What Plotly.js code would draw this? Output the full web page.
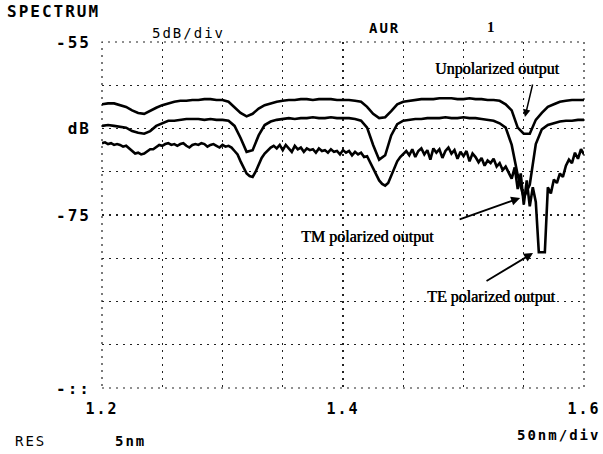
<!DOCTYPE html>
<html>
<head>
<meta charset="utf-8">
<script src="https://cdn.plot.ly/plotly-3.0.1.min.js"></script>
<style>
  html, body { margin: 0; padding: 0; background: #fff; }
  #chart { width: 603px; height: 454px; }
  .xtick text, .ytick text { letter-spacing: 2px; }
  text.annotation-text[style*="Mono"] { letter-spacing: 2px; }
</style>
</head>
<body>
<div id="chart"></div>
<script>
// Wavelength grid (um) for the unpolarized and TM traces
var wlCoarse = [1.200,1.205,1.210,1.215,1.220,1.225,1.230,1.235,1.240,1.245,
  1.250,1.255,1.260,1.265,1.270,1.275,1.280,1.285,1.290,1.295,
  1.300,1.305,1.310,1.315,1.320,1.325,1.330,1.335,1.340,1.345,
  1.350,1.355,1.360,1.365,1.370,1.375,1.380,1.385,1.390,1.395,
  1.400,1.405,1.410,1.415,1.420,1.425,1.430,1.435,1.440,1.445,
  1.450,1.455,1.460,1.465,1.470,1.475,1.480,1.485,1.490,1.495,
  1.500,1.505,1.510,1.515,1.520,1.525,1.530,1.535,1.540,1.545,
  1.550,1.555,1.560,1.565,1.570,1.575,1.580,1.585,1.590,1.595,1.600];

// Unpolarized output (dB)
var unpolarized = [-62.2,-62.1,-62.1,-62.3,-62.5,-62.9,-63.2,-63.3,-62.9,-62.6,
  -62.3,-62.1,-61.9,-61.8,-61.8,-61.7,-61.7,-61.6,-61.6,-61.7,
  -61.7,-61.9,-62.5,-63.2,-63.6,-63.3,-62.7,-62.3,-62.1,-61.9,
  -61.8,-61.7,-61.7,-61.6,-61.6,-61.7,-61.6,-61.6,-61.6,-61.7,
  -61.7,-61.7,-61.8,-61.9,-62.5,-63.3,-63.8,-63.7,-63.0,-62.2,
  -61.9,-61.8,-61.7,-61.6,-61.6,-61.6,-61.5,-61.5,-61.5,-61.6,
  -61.6,-61.5,-61.6,-61.6,-61.7,-61.7,-61.8,-62.2,-62.9,-64.9,
  -65.6,-65.6,-64.0,-63.2,-62.5,-62.2,-61.9,-61.8,-61.7,-61.7,-61.7];

// TM polarized output (dB)
var tmPolarized = [-64.7,-64.6,-64.7,-64.8,-64.9,-65.3,-65.5,-65.6,-65.3,-64.7,
  -64.4,-64.1,-64.1,-64.0,-63.9,-63.9,-63.9,-64.0,-63.9,-64.0,
  -64.0,-64.1,-64.7,-66.1,-67.7,-67.5,-65.8,-64.6,-64.2,-64.0,
  -63.9,-63.8,-63.9,-63.8,-63.8,-63.7,-63.8,-63.8,-63.7,-63.8,
  -63.8,-63.8,-63.9,-64.1,-64.9,-66.9,-68.6,-68.1,-65.8,-64.5,
  -64.1,-64.0,-63.9,-63.9,-63.8,-63.8,-63.8,-63.7,-63.8,-63.8,
  -63.7,-63.8,-63.8,-63.9,-64.0,-64.1,-64.4,-64.9,-66.9,-70.4,
  -73.0,-71.5,-66.8,-65.1,-64.6,-64.4,-64.2,-64.1,-64.1,-64.0,-64.0];

// Finer wavelength grid (um) for the noisy TE trace
var wlFine = [1.2000,1.2025,1.2050,1.2075,1.2100,1.2125,1.2150,1.2175,1.2200,1.2225,
  1.2250,1.2275,1.2300,1.2325,1.2350,1.2375,1.2400,1.2425,1.2450,1.2475,
  1.2500,1.2525,1.2550,1.2575,1.2600,1.2625,1.2650,1.2675,1.2700,1.2725,
  1.2750,1.2775,1.2800,1.2825,1.2850,1.2875,1.2900,1.2925,1.2950,1.2975,
  1.3000,1.3025,1.3050,1.3075,1.3100,1.3125,1.3150,1.3175,1.3200,1.3225,
  1.3250,1.3275,1.3300,1.3325,1.3350,1.3375,1.3400,1.3425,1.3450,1.3475,
  1.3500,1.3525,1.3550,1.3575,1.3600,1.3625,1.3650,1.3675,1.3700,1.3725,
  1.3750,1.3775,1.3800,1.3825,1.3850,1.3875,1.3900,1.3925,1.3950,1.3975,
  1.4000,1.4025,1.4050,1.4075,1.4100,1.4125,1.4150,1.4175,1.4200,1.4225,
  1.4250,1.4275,1.4300,1.4325,1.4350,1.4375,1.4400,1.4425,1.4450,1.4475,
  1.4500,1.4525,1.4550,1.4575,1.4600,1.4625,1.4650,1.4675,1.4700,1.4725,
  1.4750,1.4775,1.4800,1.4825,1.4850,1.4875,1.4900,1.4925,1.4950,1.4975,
  1.5000,1.5025,1.5050,1.5075,1.5100,1.5125,1.5150,1.5175,1.5200,1.5225,
  1.5250,1.5275,1.5300,1.5325,1.5350,1.5375,1.5400,1.5425,1.5450,1.5475,
  1.5500,1.5525,1.5550,1.5575,1.5600,1.5625,1.5650,1.5675,1.5700,1.5725,
  1.5750,1.5775,1.5800,1.5825,1.5850,1.5875,1.5900,1.5925,1.5950,1.5975,1.6000];

// TE polarized output (dB)
var tePolarized = [-66.7,-66.6,-66.8,-66.7,-66.9,-66.8,-66.9,-67.1,-67.0,-67.3,
  -67.6,-67.9,-67.8,-68.0,-67.9,-67.6,-67.4,-67.4,-67.1,-66.9,
  -67.0,-66.8,-66.7,-66.9,-66.8,-67.0,-66.8,-66.7,-67.0,-67.2,
  -66.9,-66.8,-66.9,-66.7,-66.8,-67.1,-66.9,-66.8,-67.0,-67.2,
  -66.9,-67.1,-67.0,-67.2,-67.6,-68.0,-68.8,-69.6,-70.2,-70.5,
  -70.6,-70.0,-69.2,-68.4,-67.9,-67.5,-67.2,-67.0,-67.3,-66.9,
  -67.5,-66.9,-67.3,-67.7,-67.0,-67.4,-67.2,-67.7,-67.3,-67.5,
  -67.4,-67.8,-67.3,-67.6,-67.5,-67.8,-67.4,-67.7,-67.6,-68.0,
  -67.5,-67.8,-67.6,-68.1,-67.7,-68.0,-67.8,-68.3,-68.2,-68.9,
  -69.6,-70.4,-71.0,-71.4,-71.6,-71.3,-70.5,-69.6,-68.8,-68.3,
  -68.0,-67.6,-68.1,-67.4,-68.3,-67.6,-67.3,-68.0,-67.5,-68.6,
  -67.3,-67.8,-67.4,-68.4,-67.6,-67.2,-67.9,-67.5,-68.5,-67.7,
  -68.2,-67.6,-68.8,-67.9,-68.3,-68.9,-68.4,-69.3,-68.7,-69.0,
  -68.5,-69.4,-69.0,-69.8,-69.4,-70.2,-70.8,-69.5,-72.0,-70.2,
  -73.8,-71.0,-74.0,-71.8,-73.5,-79.3,-79.3,-79.3,-71.8,-72.5,
  -70.9,-71.3,-70.2,-70.6,-69.3,-68.6,-69.0,-67.8,-68.5,-67.4,-68.0];

// Axis ticks
var xTickVals = [1.20,1.25,1.30,1.35,1.40,1.45,1.50,1.55,1.60];
var xTickText = ['1.2','','','','1.4','','','','1.6'];
var yTickVals = [-95,-90,-85,-80,-75,-70,-65,-60,-55];
var yTickText = ['-::','','','','-75','','dB','','-55'];

var lineStyle = {color: '#000', width: 2.6};
var traces = [
  {x: wlCoarse, y: unpolarized, type: 'scatter', mode: 'lines', name: 'Unpolarized output', line: lineStyle},
  {x: wlCoarse, y: tmPolarized, type: 'scatter', mode: 'lines', name: 'TM polarized output', line: lineStyle},
  {x: wlFine, y: tePolarized, type: 'scatter', mode: 'lines', name: 'TE polarized output', line: {color: '#000', width: 2.6}}
];

var mono = {family: 'DejaVu Sans Mono', size: 15, color: '#000', weight: 'bold'};
var serif = {family: 'Liberation Serif', size: 16, color: '#000', shadow: '0.5px 0 0 #000'};
var gridStyle = {color: '#222', width: 1.2, dash: '2px,5px'};

var layout = {
  width: 603, height: 454,
  margin: {l: 102, r: 19, t: 42, b: 66},
  paper_bgcolor: '#fff', plot_bgcolor: '#fff',
  showlegend: false,
  hovermode: false,
  xaxis: {
    range: [1.2, 1.6], tickmode: 'array', tickvals: xTickVals, ticktext: xTickText,
    showgrid: true, gridcolor: gridStyle.color, gridwidth: gridStyle.width, griddash: gridStyle.dash,
    zeroline: false, showline: false, ticks: '', ticklabelstandoff: 10,
    tickfont: mono
  },
  yaxis: {
    range: [-95, -55], tickmode: 'array', tickvals: yTickVals, ticktext: yTickText,
    showgrid: true, gridcolor: gridStyle.color, gridwidth: gridStyle.width, griddash: gridStyle.dash,
    zeroline: false, showline: false, ticks: '', ticklabelstandoff: 10,
    tickfont: {family: 'DejaVu Sans Mono', size: 16, color: '#000', weight: 'bold'}
  },
  shapes: [
    {type: 'rect', xref: 'paper', yref: 'paper', x0: 0, x1: 1, y0: 0, y1: 1, layer: 'below',
     line: {color: gridStyle.color, width: gridStyle.width, dash: gridStyle.dash}}
  ],
  annotations: [
    {xref: 'paper', yref: 'paper', x: -0.201, y: 1.087, xanchor: 'left', yanchor: 'middle', text: 'SPECTRUM', showarrow: false, font: {family: 'DejaVu Sans Mono', size: 16, color: '#000', weight: 'bold'}},
    {xref: 'paper', yref: 'paper', x: 0.0996, y: 1.026, xanchor: 'left', yanchor: 'middle', text: '5dB/div', showarrow: false, font: {family: 'DejaVu Sans Mono', size: 14, color: '#000'}},
    {xref: 'paper', yref: 'paper', x: 0.550, y: 1.040, xanchor: 'left', yanchor: 'middle', text: 'AUR', showarrow: false, font: {family: 'DejaVu Sans Mono', size: 14, color: '#000', weight: 'bold'}},
    {xref: 'paper', yref: 'paper', x: 0.795, y: 1.043, xanchor: 'left', yanchor: 'middle', text: '1', showarrow: false, font: {family: 'Liberation Serif', size: 15, color: '#000', weight: 'bold'}},
    {xref: 'paper', yref: 'paper', x: -0.185, y: -0.153, xanchor: 'left', yanchor: 'middle', text: 'RES', showarrow: false, font: {family: 'DejaVu Sans Mono', size: 14, color: '#000'}},
    {xref: 'paper', yref: 'paper', x: 0.0228, y: -0.153, xanchor: 'left', yanchor: 'middle', text: '5nm', showarrow: false, font: {family: 'DejaVu Sans Mono', size: 14, color: '#000', weight: 'bold'}},
    {xref: 'paper', yref: 'paper', x: 1.037, y: -0.136, xanchor: 'right', yanchor: 'middle', text: '50nm/div', showarrow: false, font: {family: 'DejaVu Sans Mono', size: 14, color: '#000', weight: 'bold'}},
    {xref: 'paper', yref: 'paper', x: 0.687, y: 0.922, xanchor: 'left', yanchor: 'middle', text: 'Unpolarized output', showarrow: false, font: serif},
    {xref: 'paper', yref: 'paper', x: 0.409, y: 0.436, xanchor: 'left', yanchor: 'middle', text: 'TM polarized output', showarrow: false, font: serif},
    {xref: 'paper', yref: 'paper', x: 0.670, y: 0.263, xanchor: 'left', yanchor: 'middle', text: 'TE polarized output', showarrow: false, font: serif},
    {xref: 'x', yref: 'y', x: 1.551, y: -63.67, ax: 8, ay: -34, axref: 'pixel', ayref: 'pixel', text: '', showarrow: true, arrowhead: 2, arrowsize: 1, arrowwidth: 1.5, arrowcolor: '#000'},
    {xref: 'x', yref: 'y', x: 1.547, y: -73.03, ax: -62, ay: 22, axref: 'pixel', ayref: 'pixel', text: '', showarrow: true, arrowhead: 2, arrowsize: 1, arrowwidth: 1.8, arrowcolor: '#000'},
    {xref: 'x', yref: 'y', x: 1.5577, y: -79.39, ax: -48, ay: 29, axref: 'pixel', ayref: 'pixel', text: '', showarrow: true, arrowhead: 2, arrowsize: 1, arrowwidth: 1.8, arrowcolor: '#000'}
  ]
};

Plotly.newPlot('chart', traces, layout, {displayModeBar: false, staticPlot: true});
</script>
</body>
</html>
